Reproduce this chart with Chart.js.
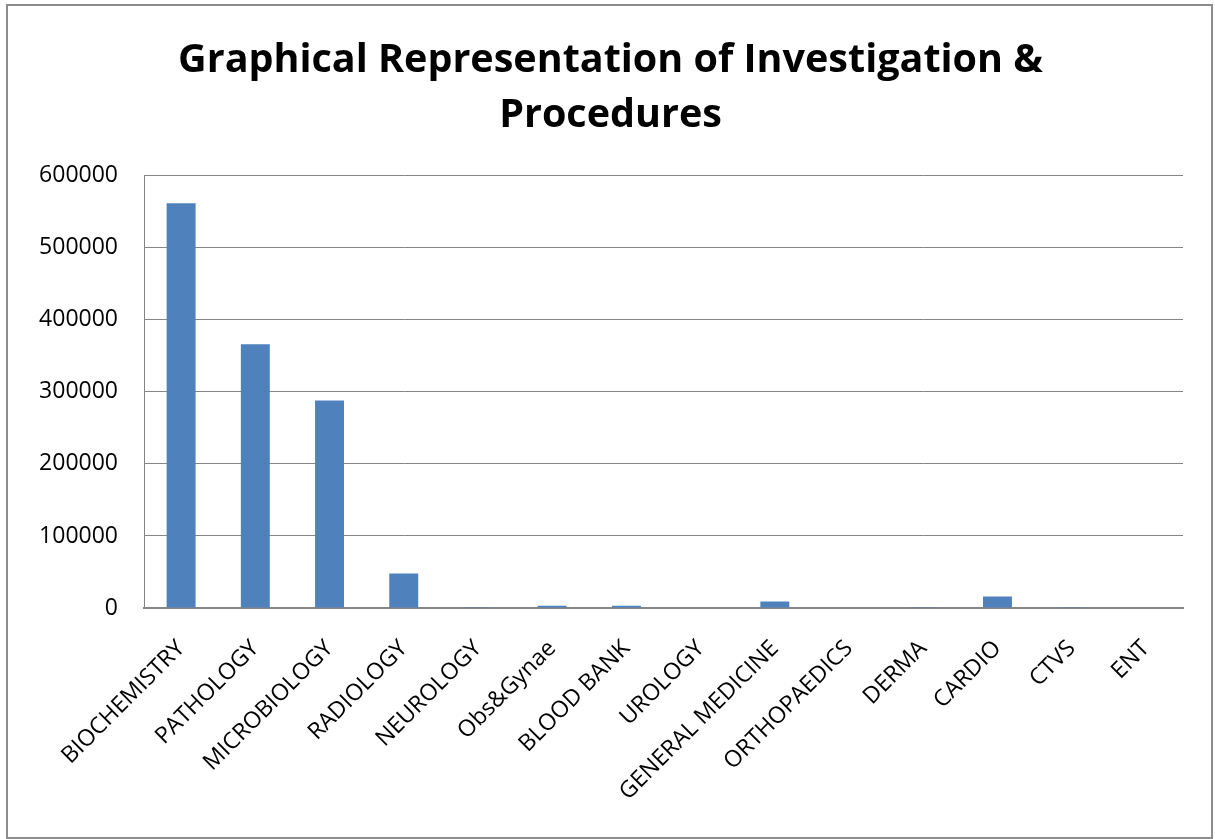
<!DOCTYPE html>
<html>
<head>
<meta charset="utf-8">
<script src="https://cdn.jsdelivr.net/npm/chart.js@4/dist/chart.umd.min.js"></script>
<style>
  html, body { margin: 0; padding: 0; background: #ffffff; }
  #wrap { width: 1215px; height: 839px; position: relative; }
</style>
</head>
<body>
<div id="wrap"><canvas id="c" width="1215" height="839"></canvas></div>
<script>
const titleLines = ["Graphical Representation of Investigation &", "Procedures"];
const categories = ["BIOCHEMISTRY", "PATHOLOGY", "MICROBIOLOGY", "RADIOLOGY", "NEUROLOGY", "Obs&Gynae", "BLOOD BANK", "UROLOGY", "GENERAL MEDICINE", "ORTHOPAEDICS", "DERMA", "CARDIO", "CTVS", "ENT"];
const values = [562000, 366000, 288000, 48000, 1200, 3000, 3000, 800, 9000, 800, 200, 16000, 200, 800];
const yMin = 0, yMax = 600000, yStep = 100000;

const frame = {
  id: 'frame',
  beforeDraw(chart) {
    const ctx = chart.ctx;
    ctx.save();
    ctx.fillStyle = '#ffffff';
    ctx.fillRect(0, 0, chart.width, chart.height);
    ctx.restore();
  },
  afterDraw(chart) {
    const ctx = chart.ctx;
    ctx.save();
    ctx.strokeStyle = '#8c8c8c';
    ctx.lineWidth = 2;
    ctx.strokeRect(7, 5, 1205, 833);
    ctx.restore();
  }
};

new Chart(document.getElementById('c'), {
  type: 'bar',
  data: {
    labels: categories,
    datasets: [{
      data: values,
      backgroundColor: '#4f81bd',
      borderWidth: 0,
      barPercentage: 0.39,
      categoryPercentage: 1.0
    }]
  },
  options: {
    responsive: false,
    animation: false,
    layout: { padding: { left: 38, right: 32, top: 0, bottom: 0 } },
    plugins: {
      legend: { display: false },
      tooltip: { enabled: false },
      title: {
        display: true,
        text: titleLines,
        color: '#000000',
        font: { family: 'Open Sans', size: 39.5, weight: 'bold', lineHeight: 1.39 },
        padding: { top: 33, bottom: 33 }
      }
    },
    scales: {
      x: {
        grid: { display: false, drawTicks: false },
        border: { display: true, color: '#868686', width: 2 },
        ticks: {
          color: '#000000',
          font: { family: 'Open Sans', size: 23 },
          maxRotation: 45,
          minRotation: 45,
          autoSkip: false,
          padding: 27
        },
        afterFit(scale) { scale.height = 231; }
      },
      y: {
        min: yMin,
        max: yMax,
        grid: { color: '#868686', lineWidth: 1, drawTicks: false },
        border: { display: true, color: '#868686', width: 1 },
        ticks: {
          stepSize: yStep,
          color: '#000000',
          font: { family: 'Open Sans', size: 23 },
          padding: 26,
          callback: (v) => String(v)
        },
        afterFit(scale) { scale.width = 106; }
      }
    }
  },
  plugins: [frame]
});
</script>
</body>
</html>
